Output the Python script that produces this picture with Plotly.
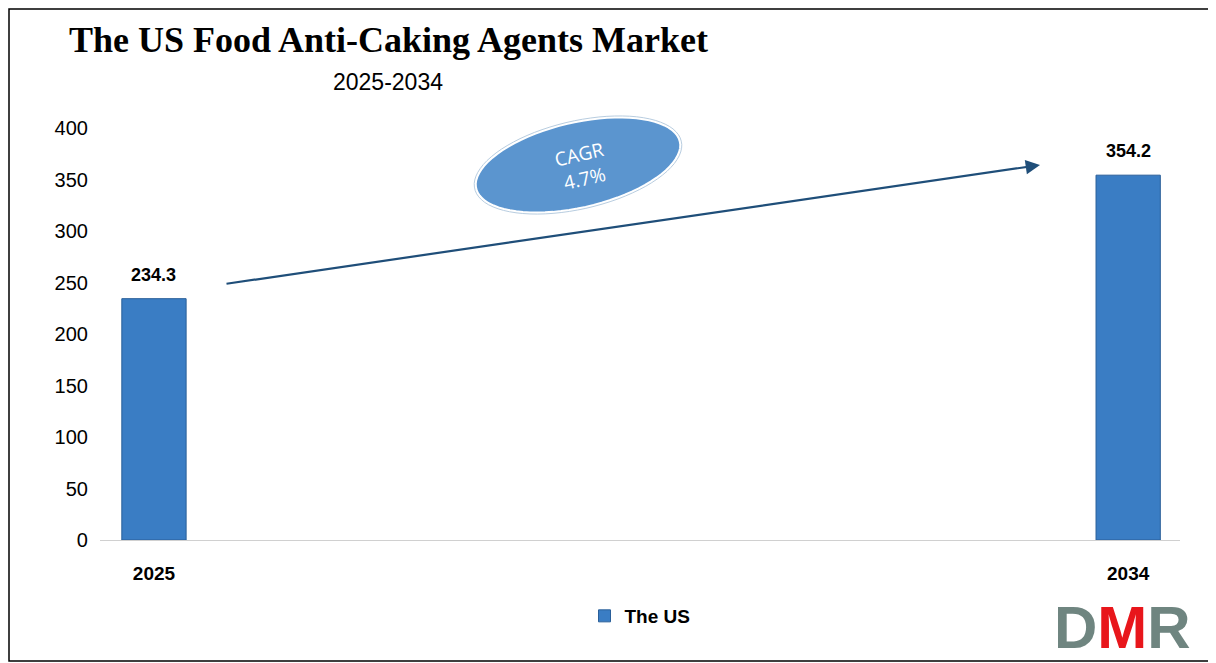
import numpy as np
import plotly.graph_objects as go

years = ["2025", "2034"]
values = [234.3, 354.2]
series_name = "The US"
cagr_text = "CAGR<br>4.7%"

OFF = 8  # page body margin
W, H = 1216 - OFF, 663 - OFF
L, R, T, B = 100 - OFF, 36, 128 - OFF, 123
pw, ph = W - L - R, H - T - B


def px(x):
    return (x - OFF - L) / pw


def py(y):
    return (H - B - (y - OFF)) / ph


fig = go.Figure()
fig.add_trace(go.Bar(
    x=[0, 1], y=values, width=0.066, name=f"<b>{series_name}</b>",
    marker=dict(color="#3a7dc4", line=dict(color="#2a5f99", width=1)),
    showlegend=True))

# rotated ellipse
t = np.linspace(0, 2 * np.pi, 80)
cx, cy, a, b, ang = 578, 165, 106, 44, np.deg2rad(-13)
ex = cx + a * np.cos(t) * np.cos(ang) - b * np.sin(t) * np.sin(ang)
ey = cy + a * np.cos(t) * np.sin(ang) + b * np.sin(t) * np.cos(ang)
path = "M " + " L ".join(f"{px(x):.4f},{py(y):.4f}" for x, y in zip(ex, ey)) + " Z"

shapes = [
    dict(type="path", xref="paper", yref="paper", path=path,
         fillcolor="#5b95cf", line=dict(color="white", width=5), layer="above"),
    dict(type="path", xref="paper", yref="paper", path=path,
         fillcolor="rgba(0,0,0,0)", line=dict(color="#b8cde0", width=1), layer="above"),
    dict(type="rect", xref="paper", yref="paper", x0=px(9), y0=py(661), x1=px(1214), y1=py(9),
         line=dict(color="black", width=1.5)),
]

annotations = [
    dict(x=px(1040), y=py(165), ax=225 - 1040, ay=284 - 165, xref="paper", yref="paper",
         axref="pixel", ayref="pixel", showarrow=True, arrowhead=2, arrowsize=1.3,
         arrowwidth=2.2, arrowcolor="#1f4e79", text=""),
    dict(x=px(582), y=py(166), xref="paper", yref="paper", text=cagr_text, showarrow=False,
         xanchor="center", yanchor="middle", textangle=-13,
         font=dict(size=19, color="white", family="Open Sans")),
    dict(x=px(388), y=py(40), xref="paper", yref="paper", xanchor="center", yanchor="middle",
         text="<b>The US Food Anti-Caking Agents Market</b>",
         showarrow=False, font=dict(size=36, color="black", family="Liberation Serif")),
    dict(x=px(388), y=py(82), xref="paper", yref="paper", xanchor="center", yanchor="middle",
         text="2025-2034", showarrow=False,
         font=dict(size=23, color="black", family="Liberation Sans")),
    dict(x=px(1122), y=py(627), xref="paper", yref="paper", xanchor="center", yanchor="middle",
         text="<b>D<span style='color:#e8161b'>M</span>R</b>", showarrow=False,
         font=dict(size=60, color="#6f8580", family="Liberation Sans")),
]
for i, v in enumerate(values):
    annotations.append(dict(x=i, y=v, xref="x", yref="y", text=f"<b>{v}</b>", showarrow=False,
                            yanchor="middle", yshift=24,
                            font=dict(size=18, color="black", family="Liberation Sans")))

fig.update_layout(
    width=W, height=H, margin=dict(l=L, r=R, t=T, b=B),
    paper_bgcolor="white", plot_bgcolor="white",
    shapes=shapes, annotations=annotations,
    xaxis=dict(range=[-0.0554, 1.0532], tickvals=[0, 1], ticktext=[f"<b>{y}</b>" for y in years],
               tickfont=dict(size=19, color="black", family="Liberation Sans"),
               showline=True, linecolor="#d0d0d0", showgrid=False, zeroline=False,
               ticks="outside", ticklen=16, tickcolor="rgba(0,0,0,0)"),
    yaxis=dict(range=[0, 400], dtick=50, showgrid=False, zeroline=False, showline=False,
               tickfont=dict(size=20, color="black", family="Liberation Sans"), ticksuffix="  "),
    legend=dict(orientation="h", x=0.5, xanchor="center", y=py(616), yanchor="middle",
                font=dict(size=19, color="black", family="Liberation Sans")),
)

fig.write_html("out.html")
